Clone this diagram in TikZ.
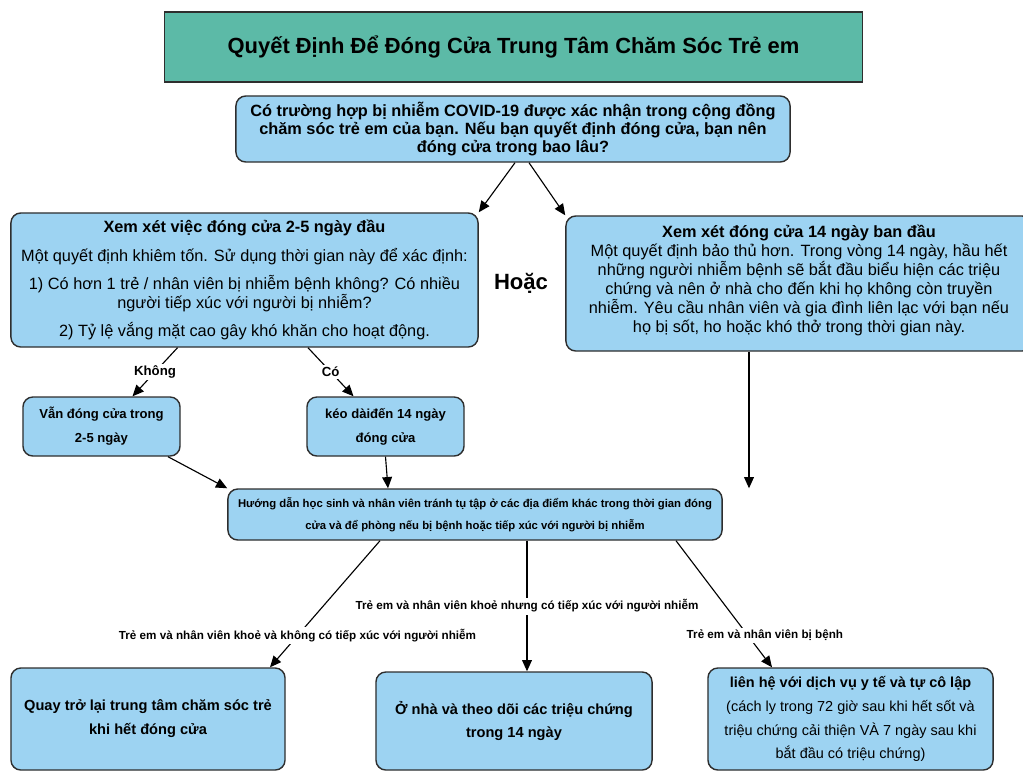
\documentclass[tikz,border=0pt]{standalone}
\usepackage{fontspec}
\setmainfont{Liberation Sans}
\usetikzlibrary{calc,arrows.meta}
\definecolor{titlebg}{HTML}{5CBAA7}
\definecolor{boxbg}{HTML}{9DD3F2}
\definecolor{boxline}{HTML}{2E2E2E}
\tikzset{
        box/.style={draw=boxline, fill=boxbg, line width=1pt, rounded corners=7pt, align=center, inner sep=2pt},
        link/.style={-{Triangle[length=8pt,width=7pt]}, line width=0.8pt},
        lbl/.style={fill=white, inner sep=1.5pt, font=\bfseries\fontsize{8.3}{9}\selectfont},
}

\begin{document}
\begin{tikzpicture}[x=0.025cm, y=-0.025cm]
        \useasboundingbox (0,0) rectangle (1023,771);
        \clip (0,0) rectangle (1023,771);

        \node (head) at (513.5,47) [draw=boxline, fill=titlebg, line width=0.8pt, minimum width=17.425cm, minimum height=1.75cm, font=\bfseries\fontsize{15.6}{18}\selectfont] {Quyết Định Để Đóng Cửa Trung Tâm Chăm Sóc Trẻ em};

        \node (q) at (513,129) [box, minimum width=13.85cm, minimum height=1.65cm, font=\bfseries\fontsize{11.6}{12.8}\selectfont] {Có trường hợp bị nhiễm COVID-19 được xác nhận trong cộng đồng\\
                chăm sóc trẻ em của bạn. Nếu bạn quyết định đóng cửa, bạn nên\\
                đóng cửa trong bao lâu?};

        \node (opt5) at (244.5,280) [box, minimum width=11.675cm, minimum height=3.35cm, font=\fontsize{11.6}{13.5}\selectfont] {{\bfseries Xem xét việc đóng cửa 2-5 ngày đầu}\\[6.5pt]
                Một quyết định khiêm tốn. Sử dụng thời gian này để xác định:\\[6.5pt]
                1) Có hơn 1 trẻ / nhân viên bị nhiễm bệnh không? Có nhiều\\
                người tiếp xúc với người bị nhiễm?\\[6.5pt]
                2) Tỷ lệ vắng mặt cao gây khó khăn cho hoạt động.};

        \node (opt14) at (799,283.5) [box, minimum width=11.65cm, minimum height=3.375cm, font=\fontsize{11.6}{13.5}\selectfont] {{\bfseries Xem xét đóng cửa 14 ngày ban đầu}\\
                Một quyết định bảo thủ hơn. Trong vòng 14 ngày, hầu hết\\
                những người nhiễm bệnh sẽ bắt đầu biểu hiện các triệu\\
                chứng và nên ở nhà cho đến khi họ không còn truyền\\
                nhiễm. Yêu cầu nhân viên và gia đình liên lạc với bạn nếu\\
                họ bị sốt, ho hoặc khó thở trong thời gian này.\\[-6.5pt]};

        \node (or) at (521,283) [font=\bfseries\fontsize{15.7}{17}\selectfont] {Hoặc};

        \node (van) at (101.5,426.5) [box, minimum width=3.925cm, minimum height=1.475cm, font=\bfseries\fontsize{9.3}{17}\selectfont] {Vẫn đóng cửa trong\\ 2-5 ngày};
        \node (keo) at (385.5,426.5) [box, minimum width=3.925cm, minimum height=1.475cm, font=\bfseries\fontsize{9.3}{17}\selectfont] {kéo dàiđến 14 ngày\\ đóng cửa};

        \node (guide) at (475,514.5) [box, minimum width=12.35cm, minimum height=1.275cm, font=\bfseries\fontsize{8.05}{15.6}\selectfont] {Hướng dẫn học sinh và nhân viên tránh tụ tập ở các địa điểm khác trong thời gian đóng\\
                cửa và để phòng nếu bị bệnh hoặc tiếp xúc với người bị nhiễm};

        \node (back) at (148,719) [box, minimum width=6.85cm, minimum height=2.55cm, font=\bfseries\fontsize{10.4}{17}\selectfont] {Quay trở lại trung tâm chăm sóc trẻ\\ khi hết đóng cửa};
        \node (home) at (514,721) [box, minimum width=6.9cm, minimum height=2.45cm, font=\bfseries\fontsize{10.4}{17}\selectfont] {Ở nhà và theo dõi các triệu chứng\\ trong 14 ngày};
        \node (sick) at (850.5,719) [box, minimum width=7.125cm, minimum height=2.55cm, font=\fontsize{10.3}{17}\selectfont] {{\bfseries liên hệ với dịch vụ y tế và tự cô lập}\\
                (cách ly trong 72 giờ sau khi hết sốt và\\
                triệu chứng cải thiện VÀ 7 ngày sau khi\\
                bắt đầu có triệu chứng)};

        \draw [link] ($(q.south)+(2,0)$) -- (opt5.north east);
        \draw [link] ($(q.south)+(16,0)$) -- (opt14.north west);
        \draw [link] ($(opt5.south)+(-67,0)$) -- node [lbl, font=\bfseries\fontsize{9.4}{10}\selectfont] {Không} ($(van.north)+(31,0)$);
        \draw [link] ($(opt5.south)+(63.5,0)$) -- node [lbl, font=\bfseries\fontsize{9.4}{10}\selectfont] {Có} ($(keo.north)+(-32,0)$);
        \draw [link] ($(van.south)+(66.5,0)$) -- (guide.north west);
        \draw [link] (keo.south) -- ($(guide.north)+(-87,0)$);
        \draw [link] ($(opt14.south)+(-50,0)$) -- ($(guide.north)+(274,0)$);
        \draw [link] ($(guide.south)+(-95,0)$) -- node [lbl, pos=0.75] {Trẻ em và nhân viên khoẻ và không có tiếp xúc với người nhiễm} ($(back.north)+(122,0)$);
        \draw [link] ($(guide.south)+(52,0)$) -- node [lbl] {Trẻ em và nhân viên khoẻ nhưng có tiếp xúc với người nhiễm} ($(home.north)+(13,0)$);
        \draw [link] ($(guide.south)+(201,0)$) -- node [lbl, pos=0.75, xshift=12pt] {Trẻ em và nhân viên bị bệnh} ($(sick.north)+(-78.5,0)$);
\end{tikzpicture}
\end{document}
